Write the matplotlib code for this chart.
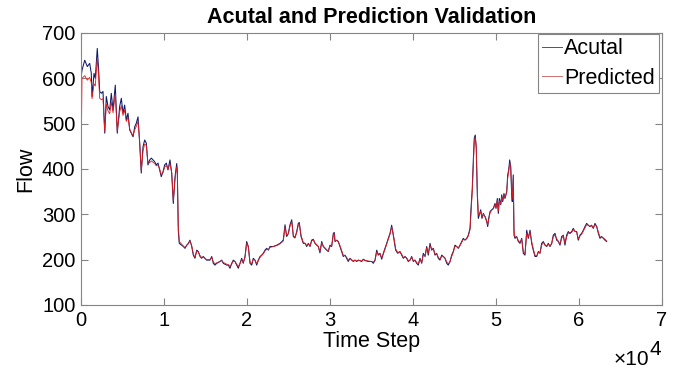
import matplotlib
matplotlib.use("Agg")
import matplotlib.pyplot as plt

plt.rcParams['font.family'] = ['Liberation Sans', 'DejaVu Sans']

time_step = [
    0, 120, 450, 760, 1050, 1240, 1330, 1570, 1720, 1960, 2130, 2250, 2450, 2650, 2860, 3050,
    3250, 3460, 3650, 3860, 4130, 4370, 4660, 4860, 5060, 5260, 5460, 5660, 5870, 6060, 6270,
    6470, 6660, 6870, 7070, 7260, 7470, 7670, 7870, 8070, 8280, 8470, 8880, 9070, 9280, 9480,
    9670, 9880, 10080, 10280, 10480, 10720, 10930, 11120, 11330, 11530, 11600, 11720, 11840,
    12130, 12330, 12530, 12730, 12930, 13130, 13340, 13530, 13730, 13940, 14130, 14340, 14540,
    14730, 15140, 15540, 15750, 15940, 16140, 16350, 16750, 16950, 17140, 17550, 17750, 17950,
    18160, 18350, 18550, 18760, 18950, 19160, 19360, 19550, 19760, 19960, 20160, 20360, 20570,
    20760, 20960, 21170, 21360, 21570, 21770, 21960, 22170, 22370, 22570, 22770, 23170, 23580,
    23980, 24370, 24580, 24780, 24980, 25180, 25390, 25580, 25780, 25990, 26180, 26300, 26510,
    26660, 26780, 26990, 27190, 27390, 27590, 27790, 27990, 28190, 28400, 28590, 28790, 29000,
    29190, 29400, 29600, 29790, 30000, 30200, 30400, 30520, 30600, 30810, 31000, 31200, 31410,
    31600, 31810, 32010, 32200, 32410, 32610, 32810, 33010, 33220, 33410, 33820, 34010, 34220,
    34610, 35020, 35220, 35420, 35630, 35820, 36020, 36230, 36420, 36630, 36830, 37020, 37230,
    37430, 37550, 37750, 37910, 38160, 38430, 38640, 38830, 39040, 39240, 39430, 39640, 39840,
    40040, 40240, 40440, 40640, 40840, 41050, 41240, 41450, 41650, 41840, 42050, 42250, 42450,
    42650, 42850, 43050, 43250, 43460, 43650, 43850, 44060, 44250, 44460, 44660, 44850, 45060,
    45260, 45460, 45660, 45870, 46060, 46260, 46470, 46660, 46870, 46990, 47140, 47260, 47380,
    47500, 47620, 47750, 47870, 47990, 48160, 48310, 48470, 48670, 48880, 49000, 49120, 49280,
    49480, 49670, 49880, 50000, 50160, 50280, 50400, 50570, 50690, 50810, 50960, 51080, 51290,
    51410, 51530, 51650, 51770, 51890, 51960, 52080, 52170, 52290, 52490, 52690, 52890, 53100,
    53290, 53490, 53700, 53890, 54100, 54300, 54490, 54700, 54900, 55100, 55300, 55500, 55700,
    55900, 56110, 56300, 56510, 56710, 56900, 57110, 57310, 57510, 57710, 57910, 58110, 58310,
    58510, 58710, 58910, 59120, 59310, 59520, 59720, 59910, 60120, 60320, 60520, 60720, 60920,
    61120, 61320, 61520, 61720, 61930, 62130, 62330, 62530, 62730, 62930, 63130, 63330,
]

actual = [
    600, 618, 640, 626, 633, 611, 560, 611, 600, 666, 618, 571, 567, 571, 479, 560,
    538, 530, 567, 530, 585, 479, 538, 556, 523, 541, 508, 523, 486, 479, 471,
    493, 501, 515, 457, 391, 449, 464, 457, 409, 420, 424, 416, 409, 413, 398,
    383, 394, 409, 413, 398, 420, 390, 324, 383, 412, 398, 265, 236,
    232, 229, 225, 232, 236, 243, 229, 210, 203, 221, 218, 207, 203,
    207, 199, 199, 207, 192, 188, 192, 196, 199, 192, 188, 188, 181,
    192, 199, 196, 188, 181, 192, 203, 192, 207, 240, 229, 192, 188,
    203, 199, 188, 199, 207, 210, 214, 221, 225, 221, 229, 229, 232,
    236, 243, 277, 251, 258, 277, 288, 251, 248, 262, 280, 282, 251,
    243, 236, 236, 229, 236, 229, 243, 245, 236, 232, 229, 215, 240,
    229, 225, 221, 218, 232, 229, 258, 260, 240, 243, 240, 229, 218,
    207, 210, 203, 196, 203, 199, 196, 199, 196, 199, 196, 201, 198,
    196, 196, 192, 199, 221, 210, 214, 201, 214, 225, 236, 247, 258,
    276, 262, 240, 221, 214, 218, 210, 203, 207, 203, 196, 199, 207,
    196, 199, 192, 188, 203, 192, 214, 207, 229, 210, 236, 221, 225,
    210, 214, 203, 199, 210, 207, 203, 192, 188, 196, 210, 218, 232,
    229, 225, 232, 240, 247, 243, 247, 254, 269, 313, 357, 416, 468,
    475, 446, 343, 291, 299, 310, 291, 302, 295, 284, 273, 291, 306,
    310, 313, 324, 313, 335, 302, 335, 321, 343, 328, 346, 335, 350,
    387, 398, 420, 405, 343, 328, 387, 254, 247, 251, 240, 236, 247,
    214, 210, 265, 247, 265, 236, 221, 207, 207, 218, 214, 236, 240,
    232, 229, 236, 229, 236, 254, 258, 243, 240, 232, 251, 254, 232,
    254, 262, 258, 262, 269, 262, 262, 243, 254, 258, 265, 273, 280,
    276, 273, 276, 269, 280, 273, 258, 247, 251, 247, 243, 240,
]

predicted = [
    391, 600, 606, 596, 602, 590, 555, 588, 583, 645, 600, 556, 553, 555, 482, 543,
    528, 522, 548, 524, 566, 484, 526, 540, 518, 530, 505, 514, 488, 480, 474,
    486, 494, 505, 460, 396, 440, 455, 452, 412, 414, 418, 412, 407, 409, 400,
    387, 392, 404, 408, 400, 412, 392, 330, 378, 405, 398, 275, 240,
    234, 230, 227, 231, 235, 241, 231, 213, 205, 219, 217, 209, 205,
    206, 200, 200, 205, 195, 191, 193, 196, 198, 194, 190, 189, 185,
    191, 197, 196, 190, 185, 191, 200, 194, 205, 236, 228, 196, 191,
    201, 199, 191, 198, 205, 209, 213, 219, 223, 222, 227, 229, 231,
    235, 241, 272, 254, 257, 274, 284, 254, 249, 260, 276, 279, 254,
    245, 238, 236, 231, 235, 230, 241, 244, 237, 233, 229, 218, 237,
    230, 226, 222, 219, 230, 230, 254, 258, 243, 242, 240, 231, 220,
    210, 209, 205, 199, 202, 200, 197, 199, 197, 199, 197, 200, 199,
    197, 196, 195, 198, 217, 212, 213, 204, 212, 223, 234, 245, 256,
    272, 264, 243, 224, 216, 217, 212, 205, 206, 204, 198, 199, 205,
    198, 199, 194, 191, 201, 194, 211, 208, 226, 213, 232, 223, 224,
    212, 213, 205, 201, 208, 207, 204, 195, 191, 195, 207, 216, 229,
    229, 226, 231, 238, 245, 244, 246, 252, 266, 305, 350, 408, 460,
    470, 450, 352, 298, 298, 307, 294, 300, 296, 286, 277, 288, 303,
    309, 312, 321, 315, 331, 307, 330, 323, 339, 331, 343, 337, 348,
    380, 394, 413, 407, 350, 333, 378, 265, 250, 250, 242, 238, 245,
    218, 212, 258, 250, 261, 240, 224, 210, 208, 216, 215, 232, 238,
    233, 230, 234, 230, 235, 250, 255, 246, 241, 234, 247, 252, 236,
    250, 259, 258, 260, 266, 263, 261, 246, 252, 256, 263, 270, 277,
    276, 273, 275, 270, 277, 274, 261, 250, 250, 248, 245, 241,
]

x_ticks = [0, 10000, 20000, 30000, 40000, 50000, 60000, 70000]
x_tick_labels = ['0', '1', '2', '3', '4', '5', '6', '7']
y_ticks = [100, 200, 300, 400, 500, 600, 700]

W, H = 694, 371
fig = plt.figure(figsize=(W / 100, H / 100), dpi=100)
ax = fig.add_axes([81 / W, (H - 305) / H, (662 - 81) / W, (305 - 33) / H])

ax.plot(time_step, actual, color='#0b1a6b', lw=0.75, label='Acutal')
ax.plot(time_step, predicted, color='#e41a1a', lw=0.6, label='Predicted')

ax.set_xlim(0, 70000)
ax.set_ylim(100, 700)
ax.set_xticks(x_ticks)
ax.set_xticklabels(x_tick_labels)
ax.set_yticks(y_ticks)

spine_col = '#858585'
for s in ax.spines.values():
    s.set_color(spine_col)
    s.set_linewidth(0.8)
ax.tick_params(direction='in', length=5, width=0.8, colors=spine_col,
               labelcolor='black', labelsize=14.5, top=True, right=True, pad=4)

ax.set_title('Acutal and Prediction Validation', fontsize=15.5, fontweight='bold', pad=7)
ax.set_xlabel('Time Step', fontsize=15.5, labelpad=1)
ax.set_ylabel('Flow', fontsize=15.5, labelpad=4)

# scale multiplier of the x axis (x 10^4)
fig.text(649 / W, 1 - 365 / H, '\u00d710', fontsize=15, ha='right', va='baseline')
fig.text(650 / W, 1 - 355 / H, '4', fontsize=15, ha='left', va='baseline')

leg = ax.legend(loc='upper right', bbox_to_anchor=(659 / W, 1 - 34 / H),
                bbox_transform=fig.transFigure, borderaxespad=0, fontsize=15.5,
                handlelength=0.9, handletextpad=0.1, borderpad=0.2,
                labelspacing=0.4, fancybox=False, framealpha=1,
                edgecolor=spine_col)
leg.get_frame().set_linewidth(0.8)
leg.legend_handles[0].set_color('#555555')
leg.legend_handles[0].set_linewidth(0.7)
leg.legend_handles[1].set_color('#d07070')
leg.legend_handles[1].set_linewidth(0.7)

fig.savefig('out.png', dpi=100)
